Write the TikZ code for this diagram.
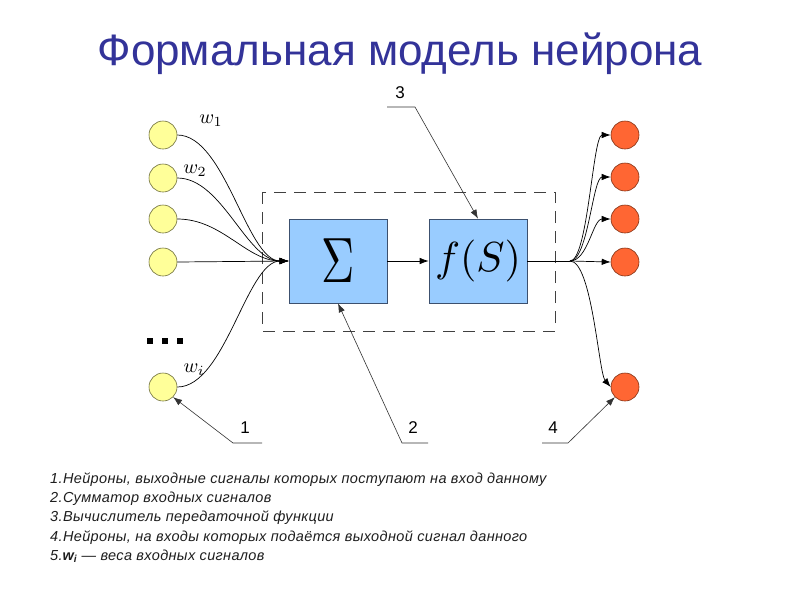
\documentclass[tikz,border=0pt]{standalone}
\usepackage{fontspec}
\setmainfont{Liberation Sans}
\usetikzlibrary{arrows.meta}
\definecolor{titleblue}{RGB}{51,51,153}
\definecolor{boxfill}{RGB}{153,204,255}
\definecolor{boxdraw}{RGB}{60,80,110}
\definecolor{infill}{RGB}{255,255,153}
\definecolor{indraw}{RGB}{110,110,60}
\definecolor{outfill}{RGB}{255,102,51}
\definecolor{outdraw}{RGB}{130,50,20}
\definecolor{txtgray}{RGB}{30,30,30}
\begin{document}
\begin{tikzpicture}[x=1pt,y=-1pt,
  inneuron/.style={circle,draw=indraw,fill=infill,minimum size=28pt,inner sep=0pt,line width=0.6pt},
  outneuron/.style={circle,draw=outdraw,fill=outfill,minimum size=28pt,inner sep=0pt,line width=0.6pt},
  block/.style={draw=boxdraw,fill=boxfill,minimum width=98pt,minimum height=84pt,inner sep=0pt,line width=0.7pt},
  conn/.style={draw=black,line width=0.7pt,-{Latex[length=9pt,width=6.5pt]}},
  leader/.style={draw=black!80,line width=0.6pt},
  num/.style={font=\fontsize{17}{17}\selectfont,inner sep=0pt},
  wlab/.style={inner sep=0pt},
  legend/.style={anchor=base west,font=\fontsize{14.5}{15}\selectfont\itshape\addfontfeatures{LetterSpace=2.5},text=txtgray,inner sep=0pt},
  dashbox/.style={draw=black!75,line width=0.6pt,dash pattern=on 12pt off 8pt},
]
\useasboundingbox (0,0) rectangle (800,600);
\fill[white] (0,0) rectangle (800,600);

% title
\node[anchor=base,text=titleblue,inner sep=0pt,font=\fontsize{44}{44}\selectfont] (title) at (400,65) {Формальная модель нейрона};

% dashed frame
\draw[dashbox] (262,192) rectangle (555,331);

% blocks
\node[block] (sum) at (338,261) {\scalebox{4.6}[6.4]{$\Sigma$}};
\node[block] (fs) at (478,261) {\raisebox{-8pt}{\scalebox{4.2}{$f(S)$}}};

% input neurons
\node[inneuron] (in1) at (163,135) {};
\node[inneuron] (in2) at (163,178) {};
\node[inneuron] (in3) at (163,219) {};
\node[inneuron] (in4) at (163,262) {};
\node[inneuron] (in5) at (163,387) {};

% dots
\fill (147,338) rectangle +(6,6);
\fill (162,338) rectangle +(6,6);
\fill (177,338) rectangle +(6,6);

% output neurons
\node[outneuron] (out1) at (625,135) {};
\node[outneuron] (out2) at (625,177) {};
\node[outneuron] (out3) at (625,219) {};
\node[outneuron] (out4) at (625,262) {};
\node[outneuron] (out5) at (625,387) {};

% weights
\node[wlab] (w1) at (211,121) {\scalebox{2}{$w_1$}};
\node[wlab] (w2) at (195,171) {\scalebox{2}{$w_2$}};
\node[wlab] (wi) at (194,370) {\scalebox{2}{$w_i$}};

% input connections
\draw[conn] (in1.east) .. controls +(48,0) and +(-42,0) .. (sum.west);
\draw[conn] (in2.east) .. controls +(45,0) and +(-42,0) .. (sum.west);
\draw[conn] (in3.east) .. controls +(45,0) and +(-42,0) .. (sum.west);
\draw[conn] (in4.east) -- (sum.west);
\draw[conn] (in5.east) .. controls +(48,0) and +(-42,0) .. (sum.west);

% sum -> f(S)
\draw[conn] (sum.east) -- (fs.west);

% output connections
\coordinate (branch) at (570,261);
\draw[line width=0.7pt] (fs.east) -- (branch);
\draw[conn] (branch) .. controls +(18,0) and +(-18,0) .. (out1.west);
\draw[conn] (branch) .. controls +(18,0) and +(-18,0) .. (out2.west);
\draw[conn] (branch) .. controls +(18,0) and +(-18,0) .. (out3.west);
\draw[conn] (branch) -- (out4.west);
\draw[conn] (branch) .. controls +(22,0) and +(-12,-14) .. (out5.west);

% labels and leaders
\node[num] (n3) at (400,93) {3};
\node[num] (n1) at (245,428) {1};
\node[num] (n2) at (413,428) {2};
\node[num] (n4) at (553,428) {4};

\coordinate (l3a) at (387,107);
\coordinate (l3b) at (415,107);
\draw[leader,-{Latex[length=9pt,width=6.5pt]}] (l3a) -- (l3b) -- (fs.north);

\coordinate (l1a) at (262,443);
\coordinate (l1b) at (233,443);
\draw[leader,-{Latex[length=9pt,width=6.5pt]}] (l1a) -- (l1b) -- (in5.south east);

\coordinate (l2a) at (428,443);
\coordinate (l2b) at (402,443);
\draw[leader,-{Latex[length=9pt,width=6.5pt]}] (l2a) -- (l2b) -- (sum.south);

\coordinate (l4a) at (542,443);
\coordinate (l4b) at (568,443);
\draw[leader,-{Latex[length=9pt,width=6.5pt]}] (l4a) -- (l4b) -- (out5.south west);

% legend
\node[legend] (t1) at (50,483) {1.Нейроны, выходные сигналы которых поступают на вход данному};
\node[legend] (t2) at (50,502) {2.Сумматор входных сигналов};
\node[legend] (t3) at (50,521) {3.Вычислитель передаточной функции};
\node[legend] (t4) at (50,541) {4.Нейроны, на входы которых подаётся выходной сигнал данного};
\node[legend] (t5) at (50,560) {5.\textbf{w\textsubscript{i}} — веса входных сигналов};
\end{tikzpicture}
\end{document}
